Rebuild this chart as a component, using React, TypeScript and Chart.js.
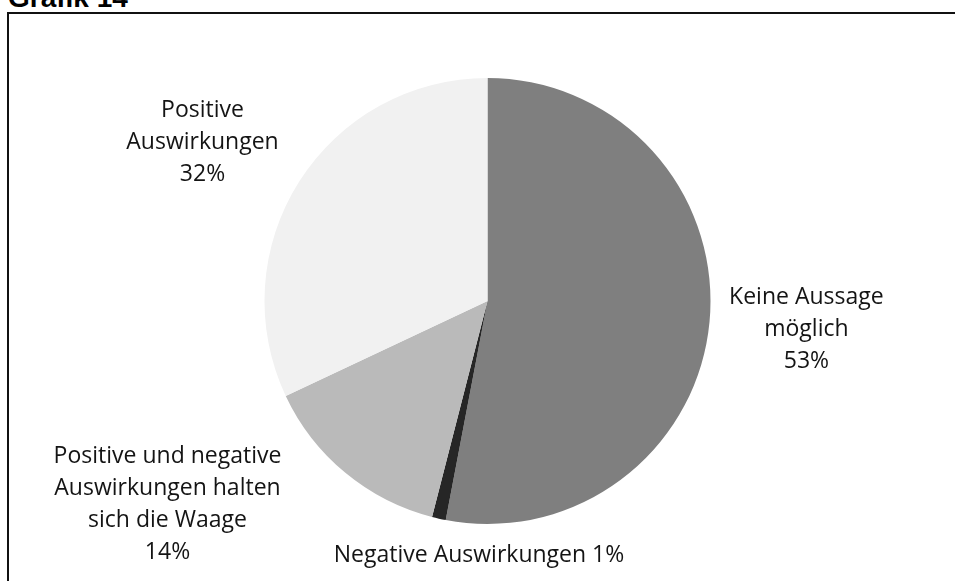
import React, { useEffect, useRef } from "react";
import { Chart, registerables } from "chart.js";

Chart.register(...registerables);

// ---- data ----
const categories: string[][] = [
  ["Keine Aussage", "möglich"],
  ["Negative Auswirkungen"],
  ["Positive und negative", "Auswirkungen halten", "sich die Waage"],
  ["Positive", "Auswirkungen"],
];
const values: number[] = [53, 1, 14, 32];
const sliceColors: string[] = ["#7f7f7f", "#262626", "#bababa", "#f1f1f1"];

// label placement relative to pie centre, in units of radius
const labelOffsets: { dx: number; dy: number; inline: boolean }[] = [
  { dx: 1.43, dy: 0.128, inline: false },
  { dx: -0.038, dy: 1.139, inline: true },
  { dx: -1.435, dy: 0.913, inline: false },
  { dx: -1.278, dy: -0.711, inline: false },
];

const FONT = "23px 'Open Sans'";
const LINE_H = 32;

const labelPlugin = {
  id: "pieLabels",
  afterDatasetsDraw(chart: any) {
    const ctx = chart.ctx;
    const meta = chart.getDatasetMeta(0);
    const data = chart.data.datasets[0].data as number[];
    ctx.save();
    ctx.font = FONT;
    ctx.fillStyle = "#141414";
    ctx.textAlign = "center";
    ctx.textBaseline = "middle";
    meta.data.forEach((arc: any, i: number) => {
      const { x, y, outerRadius } = arc.getProps(["x", "y", "outerRadius"], true);
      const off = labelOffsets[i];
      const cx = x + off.dx * outerRadius;
      const cy = y + off.dy * outerRadius;
      const pct = `${data[i]}%`;
      let lines: string[];
      if (off.inline) {
        lines = [categories[i].join(" ") + " " + pct];
      } else {
        lines = [...categories[i], pct];
      }
      const n = lines.length;
      lines.forEach((t, k) => {
        ctx.fillText(t, cx, cy + (k - (n - 1) / 2) * LINE_H);
      });
    });
    ctx.restore();
  },
};

export default function App() {
  const ref = useRef<HTMLCanvasElement | null>(null);
  useEffect(() => {
    if (!ref.current) return;
    const chart = new Chart(ref.current, {
      type: "pie",
      data: {
        labels: categories.map((c) => c.join(" ")),
        datasets: [
          {
            data: values,
            backgroundColor: sliceColors,
            borderWidth: 0,
          },
        ],
      },
      options: {
        animation: false,
        responsive: false,
        events: [],
        layout: { padding: { top: 78, bottom: 57, left: 20, right: 0 } },
        plugins: {
          legend: { display: false },
          tooltip: { enabled: false },
          title: { display: false },
        },
      },
      plugins: [labelPlugin],
    });
    return () => chart.destroy();
  }, []);

  return (
    <div
      style={{
        position: "fixed",
        left: 0,
        top: 0,
        width: 955,
        height: 581,
        overflow: "hidden",
        background: "#fff",
      }}
    >
      <div
        style={{
          position: "absolute",
          left: 8,
          top: -16,
          font: "bold 28px 'Liberation Sans', Arial, sans-serif",
          lineHeight: "28px",
          color: "#000",
          whiteSpace: "nowrap",
        }}
      >
        Grafik 14
      </div>
      <div
        style={{
          position: "absolute",
          left: 7,
          top: 12,
          width: 1200,
          height: 900,
          borderTop: "2px solid #111",
          borderLeft: "2px solid #111",
        }}
      />
      <canvas
        ref={ref}
        width={955}
        height={581}
        style={{ position: "absolute", left: 0, top: 0, width: 955, height: 581 }}
      />
    </div>
  );
}
